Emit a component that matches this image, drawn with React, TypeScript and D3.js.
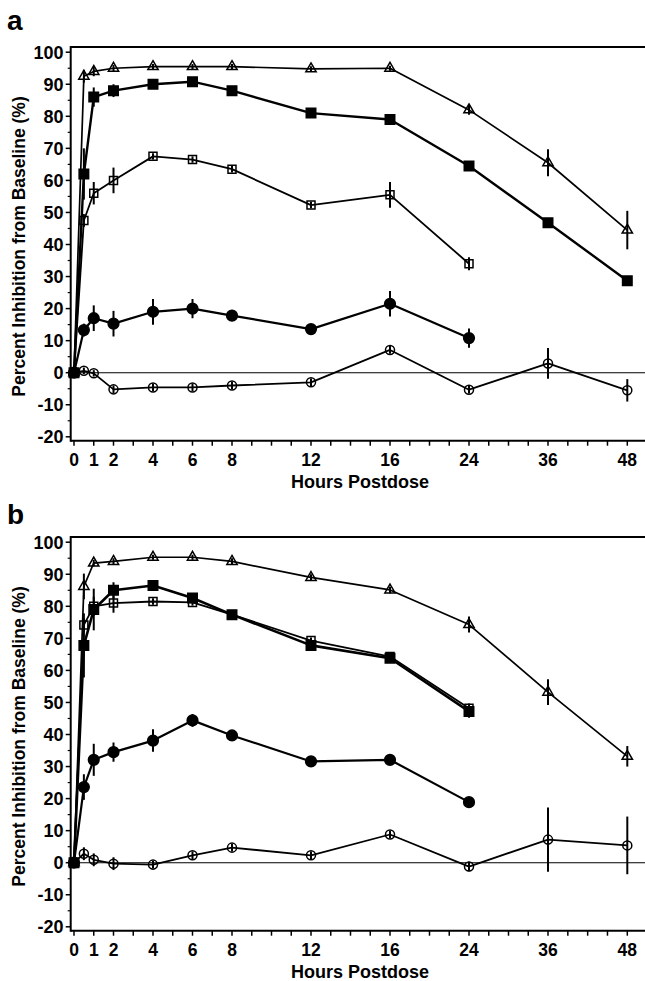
import React from "react";
import * as d3 from "d3";

// sampling times (h)
const hours = [0, 0.5, 1, 2, 4, 6, 8, 12, 16, 24, 36, 48];
const hourLabels = [0, 1, 2, 4, 6, 8, 12, 16, 24, 36, 48];
// axis is broken after 16 h, minor ticks follow the uneven spacing
const minorHours = [
  0, 1, 2, 3, 4, 5, 6, 7, 8, 9, 10, 11, 12, 13, 14, 15, 16,
  18, 20, 22, 24, 27, 30, 33, 36, 39, 42, 45, 48,
];
const yMajor = [-20, -10, 0, 10, 20, 30, 40, 50, 60, 70, 80, 90, 100];
const yMinor = [-15, -5, 5, 15, 25, 35, 45, 55, 65, 75, 85, 95];

// panel a
const aTriangle = [0, 92.5, 94, 95, 95.5, 95.5, 95.5, 94.8, 95, 82, 65.5, 44.5];
const aTriangleSe = [0, 2, 1.5, 1, 0.8, 0.8, 0.8, 0.8, 0.8, 1.5, 4.2, 6];
const aFilledSquare = [0, 62, 86, 88, 90, 90.8, 88, 81, 79, 64.5, 46.8, 28.7];
const aFilledSquareSe = [0, 8, 3, 2, 1, 1, 1, 1, 1, 1, 1, 1.5];
const aOpenSquare = [0, 47.5, 56, 60, 67.5, 66.5, 63.5, 52.3, 55.5, 34];
const aOpenSquareSe = [0, 2, 3.5, 4, 1, 1, 1, 1, 4, 2];
const aFilledDiamond = [0, 13.3, 17, 15.3, 19, 20, 17.8, 13.6, 21.5, 10.8];
const aFilledDiamondSe = [0, 2, 4, 4, 4, 3, 1, 1, 4, 3];
const aOpenCircle = [0, 0.6, -0.2, -5.2, -4.6, -4.6, -4, -3, 7.1, -5.3, 2.9, -5.5];
const aOpenCircleSe = [0, 1, 1, 1.2, 1.2, 1.2, 1.2, 1.2, 1.2, 1.2, 4.8, 3.5];

// panel b
const bTriangle = [0, 86.2, 93.5, 94, 95.3, 95.3, 94, 89, 85.1, 74.3, 53.2, 33.2];
const bTriangleSe = [0, 4, 1, 1, 0.8, 0.8, 1, 1, 1, 2.5, 4, 3.2];
const bFilledSquare = [0, 67.8, 79, 85, 86.5, 82.6, 77.4, 67.8, 63.8, 47.2];
const bFilledSquareSe = [0, 10, 6.5, 2.5, 1, 1, 1, 1.5, 1.5, 2];
const bOpenSquare = [0, 74.2, 80, 81, 81.5, 81.2, 77.4, 69.3, 64.3, 48.2];
const bOpenSquareSe = [0, 2, 3, 3, 1, 1, 1, 1, 1, 1.5];
const bFilledCircle = [0, 23.6, 32.1, 34.5, 38.1, 44.4, 39.7, 31.6, 32.1, 18.9];
const bFilledCircleSe = [0, 4, 5, 3, 3.5, 2, 1.5, 1, 1, 1];
const bOpenCircle = [0, 2.8, 0.9, -0.3, -0.6, 2.3, 4.7, 2.3, 8.8, -1.2, 7.2, 5.4];
const bOpenCircleSe = [0, 2, 2, 2, 1.2, 1.2, 1.2, 1.2, 1.2, 1.5, 10, 9];

type Series = {
  shape: string;
  filled: boolean;
  values: number[];
  se: number[];
  width: number;
};

const panelA: Series[] = [
  { shape: "triangle", filled: false, values: aTriangle, se: aTriangleSe, width: 1.7 },
  { shape: "square", filled: true, values: aFilledSquare, se: aFilledSquareSe, width: 2.4 },
  { shape: "square", filled: false, values: aOpenSquare, se: aOpenSquareSe, width: 1.8 },
  { shape: "diamond", filled: true, values: aFilledDiamond, se: aFilledDiamondSe, width: 2.2 },
  { shape: "circle", filled: false, values: aOpenCircle, se: aOpenCircleSe, width: 1.8 },
];

const panelB: Series[] = [
  { shape: "triangle", filled: false, values: bTriangle, se: bTriangleSe, width: 1.7 },
  { shape: "square", filled: false, values: bOpenSquare, se: bOpenSquareSe, width: 1.8 },
  { shape: "square", filled: true, values: bFilledSquare, se: bFilledSquareSe, width: 2.6 },
  { shape: "circle", filled: true, values: bFilledCircle, se: bFilledCircleSe, width: 2.2 },
  { shape: "circle", filled: false, values: bOpenCircle, se: bOpenCircleSe, width: 1.8 },
];

const W = 645;
const H = 981;
const axisX = 70.7;
const axisBottom = 440.7;
const frameTop = 47;
const font = "'Liberation Sans', Arial, Helvetica, sans-serif";

const x = d3
  .scaleLinear()
  .domain([0, 16, 24, 36, 48])
  .range([74, 390, 469, 548, 627.3]);
const y = d3.scaleLinear().domain([-20, 100]).range([436.8, 52.2]);

function markerPath(shape: string, filled: boolean) {
  if (shape === "triangle") return d3.symbol(d3.symbolTriangle, 46)();
  if (shape === "square") return d3.symbol(d3.symbolSquare, filled ? 90 : 64)();
  if (shape === "diamond") return d3.symbol(d3.symbolCircle, 90)();
  return d3.symbol(d3.symbolCircle, filled ? 90 : 64)();
}

function Panel({ top, letter, series }: { top: number; letter: string; series: Series[] }) {
  const line = d3
    .line<number>()
    .defined((d) => d != null)
    .x((d, i) => x(hours[i]))
    .y((d) => y(d));

  return (
    <g transform={`translate(0,${top})`}>
      <text x={7} y={letter === "a" ? 30 : 34} fontSize={28} fontWeight="bold" fontFamily={font}>
        {letter}
      </text>

      {/* frame */}
      <line x1={axisX} x2={W} y1={frameTop} y2={frameTop} stroke="#000" strokeWidth={2} />
      <line x1={axisX} x2={W} y1={axisBottom} y2={axisBottom} stroke="#000" strokeWidth={2} />
      <line x1={axisX} x2={axisX} y1={frameTop - 1} y2={axisBottom + 1} stroke="#000" strokeWidth={2} />
      <line x1={axisX} x2={W} y1={y(0)} y2={y(0)} stroke="#000" strokeWidth={1.1} />

      {/* y axis */}
      {yMajor.map((v) => (
        <g key={"ym" + v}>
          <line x1={axisX - 5} x2={axisX} y1={y(v)} y2={y(v)} stroke="#000" strokeWidth={1.5} />
          <text
            x={63.5}
            y={y(v)}
            dy="0.36em"
            textAnchor="end"
            fontSize={18}
            fontWeight="bold"
            fontFamily={font}
          >
            {v}
          </text>
        </g>
      ))}
      {yMinor.map((v) => (
        <line key={"yn" + v} x1={axisX - 3} x2={axisX} y1={y(v)} y2={y(v)} stroke="#000" strokeWidth={1.2} />
      ))}

      {/* x axis */}
      {minorHours.map((h) => (
        <line key={"xt" + h} x1={x(h)} x2={x(h)} y1={axisBottom} y2={axisBottom + 5} stroke="#000" strokeWidth={1.5} />
      ))}
      {hourLabels.map((h) => (
        <text
          key={"xl" + h}
          x={x(h)}
          y={466}
          textAnchor="middle"
          fontSize={17.5}
          fontWeight="bold"
          fontFamily={font}
        >
          {h}
        </text>
      ))}
      <text x={360} y={488} textAnchor="middle" fontSize={18} fontWeight="bold" fontFamily={font}>
        Hours Postdose
      </text>
      <text
        transform="translate(25,246.5) rotate(-90)"
        textAnchor="middle"
        fontSize={17.5}
        fontWeight="bold"
        fontFamily={font}
      >
        Percent Inhibition from Baseline (%)
      </text>

      {/* series */}
      {series.map((s, si) => (
        <g key={si}>
          <path d={line(s.values) || ""} fill="none" stroke="#000" strokeWidth={s.width} strokeLinejoin="round" />
          {s.values.map((v, i) =>
            s.se[i] > 0 ? (
              <line
                key={"e" + i}
                x1={x(hours[i])}
                x2={x(hours[i])}
                y1={y(v - s.se[i])}
                y2={y(v + s.se[i])}
                stroke="#000"
                strokeWidth={2}
              />
            ) : null
          )}
          {s.values.map((v, i) => (
            <path
              key={"m" + i}
              d={markerPath(s.shape, s.filled) || ""}
              transform={`translate(${x(hours[i])},${y(v)})`}
              fill={s.filled ? "#000" : "none"}
              stroke="#000"
              strokeWidth={1.5}
            />
          ))}
        </g>
      ))}
    </g>
  );
}

export default function App() {
  return (
    <svg
      width={W}
      height={H}
      viewBox={`0 0 ${W} ${H}`}
      style={{ position: "absolute", left: 0, top: 0, background: "#fff" }}
    >
      <rect width={W} height={H} fill="#fff" />
      <Panel top={0} letter="a" series={panelA} />
      <Panel top={490} letter="b" series={panelB} />
    </svg>
  );
}
